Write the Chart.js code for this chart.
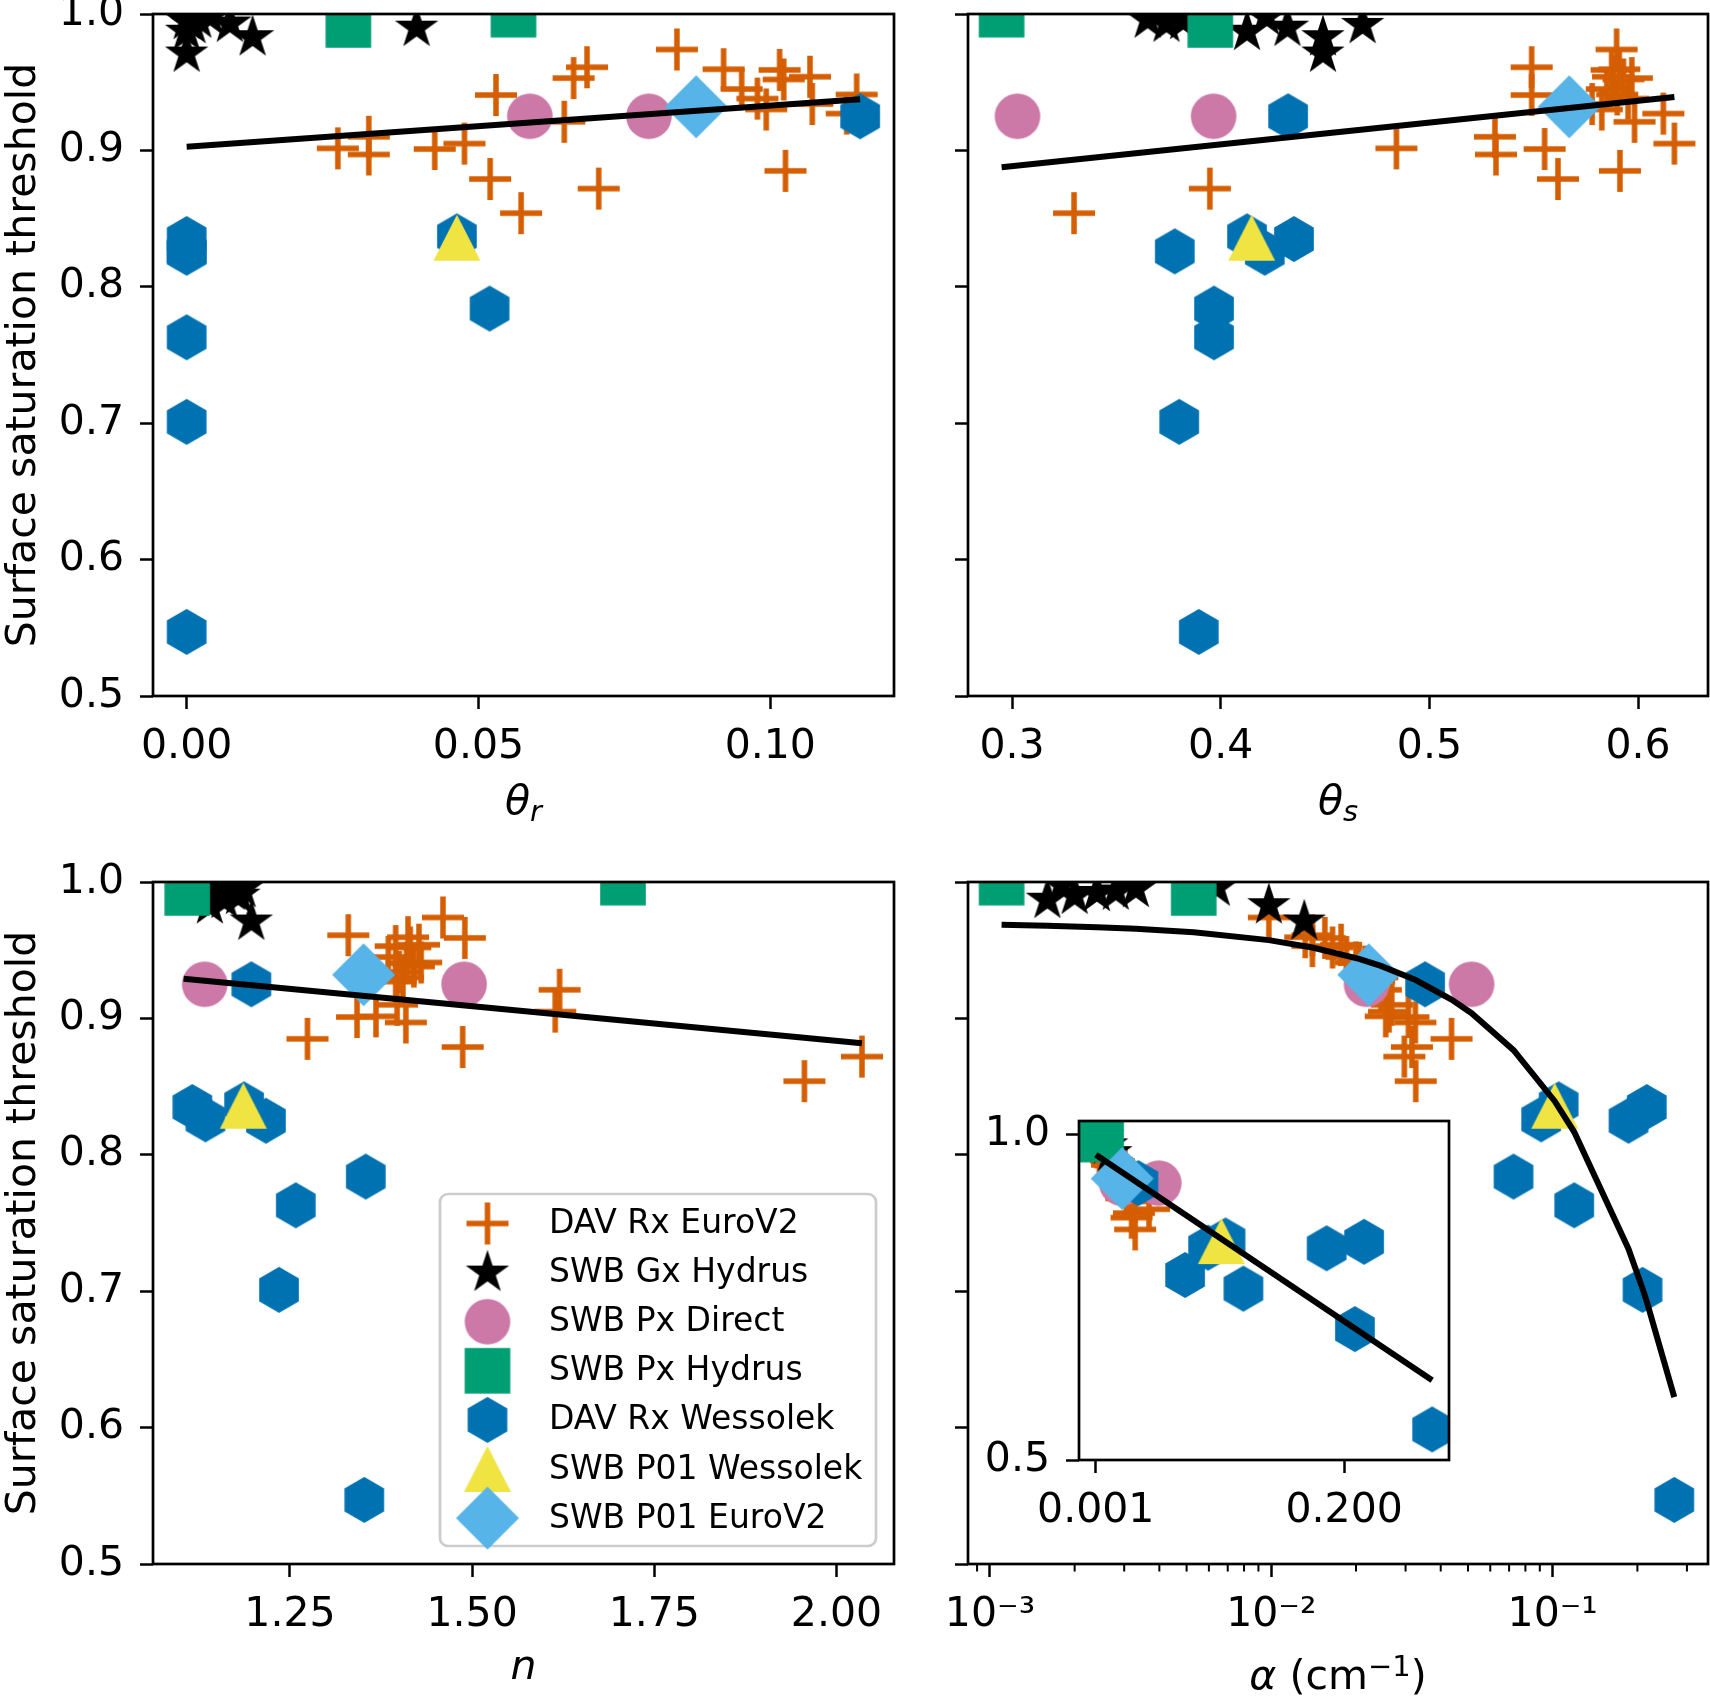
<!DOCTYPE html>
<html>
<head>
<meta charset="utf-8">
<script src="https://cdn.jsdelivr.net/npm/chart.js@4.4.1/dist/chart.umd.min.js"></script>
<style>
  html, body { margin: 0; padding: 0; background: #fff; }
  #wrap { position: relative; width: 1710px; height: 1698px; overflow: hidden; }
  #wrap canvas { position: absolute; left: 0; top: 0; }
</style>
</head>
<body>
<div id="wrap">
  <canvas id="pThetaR" width="1710" height="1698"></canvas>
  <canvas id="pThetaS" width="1710" height="1698"></canvas>
  <canvas id="pN" width="1710" height="1698"></canvas>
  <canvas id="pAlpha" width="1710" height="1698"></canvas>
  <canvas id="pInset" width="1710" height="1698"></canvas>
</div>
<script>
// series, in legend order
const SERIES = ["DAV Rx EuroV2", "SWB Gx Hydrus", "SWB Px Direct", "SWB Px Hydrus",
  "DAV Rx Wessolek", "SWB P01 Wessolek", "SWB P01 EuroV2"];

// surface saturation threshold (y) per series
const euroY = [0.854, 0.872, 0.879, 0.885, 0.897, 0.901, 0.9015, 0.905, 0.910, 0.921, 0.927, 0.930,
  0.934, 0.938, 0.9406, 0.941, 0.945, 0.952, 0.953, 0.954, 0.959, 0.9595, 0.961, 0.974];
const gxHydrusY = [0.971, 0.983, 0.987, 0.990, 0.992, 0.993, 0.995, 0.996, 0.998];
const directY = [0.925, 0.925];
const pxHydrusY = [0.992, 0.9995];
const wessolekY = [0.547, 0.701, 0.763, 0.784, 0.825, 0.826, 0.835, 0.837, 0.925];
const p01WessolekY = [0.836];
const p01EuroY = [0.932];

// theta_r
const euroThetaR = [0.0573, 0.0706, 0.0520, 0.1026, 0.0312, 0.0425, 0.0259, 0.0476, 0.0312, 0.0647, 0.1131, 0.0993,
  0.1072, 0.0978, 0.0530, 0.1148, 0.0951, 0.1023, 0.0663, 0.1068, 0.1016, 0.0920, 0.0686, 0.0840];
const gxHydrusThetaR = [0.000, 0.0113, 0.000, 0.0394, 0.001, 0.0074, 0.000, 0.002, 0.004];
const directThetaR = [0.0588, 0.0792];
const pxHydrusThetaR = [0.0277, 0.056];
const wessolekThetaR = [0.000, 0.000, 0.000, 0.0519, 0.000, 0.000, 0.000, 0.0463, 0.1154];
const p01WessolekThetaR = [0.0463];
const p01EuroThetaR = [0.0873];

// theta_s
const euroThetaS = [0.3297, 0.3948, 0.5616, 0.5913, 0.5319, 0.5552, 0.4842, 0.6174, 0.5314, 0.5983, 0.6121, 0.5826,
  0.5780, 0.5952, 0.5490, 0.5900, 0.5850, 0.5930, 0.5970, 0.5880, 0.5873, 0.5910, 0.5490, 0.5897];
const gxHydrusThetaS = [0.449, 0.449, 0.4126, 0.432, 0.468, 0.374, 0.382, 0.365, 0.4217];
const directThetaS = [0.3026, 0.3966];
const pxHydrusThetaS = [0.395, 0.295];
const wessolekThetaS = [0.3895, 0.3801, 0.3968, 0.3968, 0.4211, 0.378, 0.4351, 0.4126, 0.4323];
const p01WessolekThetaS = [0.4148];
const p01EuroThetaS = [0.567];

// n
const euroN = [1.956, 2.035, 1.487, 1.274, 1.409, 1.342, 1.368, 1.614, 1.397, 1.620, 1.395, 1.405,
  1.400, 1.420, 1.410, 1.430, 1.385, 1.415, 1.395, 1.427, 1.490, 1.412, 1.330, 1.460];
const gxHydrusN = [1.197, 1.140, 1.160, 1.180, 1.150, 1.170, 1.185, 1.155, 1.175];
const directN = [1.133, 1.489];
const pxHydrusN = [1.109, 1.707];
const wessolekN = [1.352, 1.235, 1.258, 1.354, 1.217, 1.134, 1.116, 1.187, 1.197];
const p01WessolekN = [1.186];
const p01EuroN = [1.351];

// alpha (cm^-1)
const euroAlpha = [0.0326, 0.0297, 0.0316, 0.0437, 0.0325, 0.0307, 0.0255, 0.0262, 0.0268, 0.0245, 0.0232, 0.0238,
  0.0222, 0.0215, 0.0205, 0.0200, 0.0185, 0.0165, 0.0140, 0.0177, 0.0155, 0.0132, 0.0140, 0.0098];
const gxHydrusAlpha = [0.0131, 0.0098, 0.0016, 0.0020, 0.0024, 0.0028, 0.0033, 0.0064, 0.0018];
const directAlpha = [0.0218, 0.0515];
const pxHydrusAlpha = [0.0053, 0.0011];
const wessolekAlpha = [0.2705, 0.2086, 0.1193, 0.0726, 0.186, 0.091, 0.216, 0.105, 0.0352];
const p01WessolekAlpha = [0.1017];
const p01EuroAlpha = [0.0222];

// fitted lines
const fitThetaRX = [0.0, 0.1154];
const fitThetaRY = [0.9027, 0.9375];
const fitThetaSX = [0.295, 0.6174];
const fitThetaSY = [0.8876, 0.9391];
const fitNX = [1.104, 2.035];
const fitNY = [0.9291, 0.8817];
const fitAlphaX = [0.0011, 0.0016, 0.0024, 0.0033, 0.0053, 0.0098, 0.014, 0.0205, 0.0245, 0.0326, 0.0437,
  0.0515, 0.0726, 0.1017, 0.1193, 0.186, 0.2086, 0.216, 0.2705];
const fitAlphaY = [0.9686, 0.9679, 0.9669, 0.9658, 0.9632, 0.9574, 0.9520, 0.9437, 0.9385, 0.9281, 0.9138,
  0.9038, 0.8767, 0.8393, 0.8167, 0.7310, 0.7019, 0.6924, 0.6224];

// ticks
const Y_TICKS = [0.5, 0.6, 0.7, 0.8, 0.9, 1.0];
const Y_TICK_LABELS = ["0.5", "0.6", "0.7", "0.8", "0.9", "1.0"];
const THETA_R_TICKS = [0.0, 0.05, 0.10];
const THETA_R_TICK_LABELS = ["0.00", "0.05", "0.10"];
const THETA_S_TICKS = [0.3, 0.4, 0.5, 0.6];
const THETA_S_TICK_LABELS = ["0.3", "0.4", "0.5", "0.6"];
const N_TICKS = [1.25, 1.5, 1.75, 2.0];
const N_TICK_LABELS = ["1.25", "1.50", "1.75", "2.00"];
const ALPHA_TICKS = [0.001, 0.01, 0.1];
const ALPHA_TICK_LABELS = ["10\u207B\u00B3", "10\u207B\u00B2", "10\u207B\u00B9"];
const ALPHA_MINOR_TICKS = [0.0009, 0.002, 0.003, 0.004, 0.005, 0.006, 0.007, 0.008, 0.009,
  0.02, 0.03, 0.04, 0.05, 0.06, 0.07, 0.08, 0.09, 0.2, 0.3];
const INSET_X_TICKS = [0.001, 0.2];
const INSET_X_TICK_LABELS = ["0.001", "0.200"];
const INSET_Y_TICKS = [0.5, 1.0];
const INSET_Y_TICK_LABELS = ["0.5", "1.0"];

const SERIES_Y = [euroY, gxHydrusY, directY, pxHydrusY, wessolekY, p01WessolekY, p01EuroY];

// ---- layout / style ----
const W = 1710, H = 1698;
const YW = 120, XH = 90;
const FONT = "'DejaVu Sans', sans-serif";
const COLORS = ["#D55E00", "#000000", "#CC79A7", "#009E73", "#0072B2", "#F0E442", "#56B4E9"];

Chart.defaults.font.family = FONT;
Chart.defaults.font.size = 41;
Chart.defaults.color = "#000";

function makeMarker(draw) {
  const c = document.createElement("canvas");
  c.width = 72; c.height = 72;
  const g = c.getContext("2d");
  g.translate(36, 36);
  draw(g);
  return c;
}

function polygon(g, pts) {
  g.beginPath();
  pts.forEach(([x, y], i) => (i ? g.lineTo(x, y) : g.moveTo(x, y)));
  g.closePath();
  g.fill();
}

const MARKERS = [
  makeMarker((g) => {
    g.strokeStyle = COLORS[0]; g.lineWidth = 5.5;
    g.beginPath(); g.moveTo(-21, 0); g.lineTo(21, 0); g.moveTo(0, -21); g.lineTo(0, 21); g.stroke();
  }),
  makeMarker((g) => {
    g.fillStyle = COLORS[1];
    const pts = [];
    for (let k = 0; k < 10; k++) {
      const r = k % 2 ? 22.8 * 0.381966 : 22.8;
      const a = -Math.PI / 2 + (k * Math.PI) / 5;
      pts.push([r * Math.cos(a), r * Math.sin(a)]);
    }
    polygon(g, pts);
  }),
  makeMarker((g) => {
    g.fillStyle = COLORS[2];
    g.beginPath(); g.arc(0, 0, 22.8, 0, Math.PI * 2); g.fill();
  }),
  makeMarker((g) => {
    g.fillStyle = COLORS[3];
    g.fillRect(-22.8, -22.8, 45.6, 45.6);
  }),
  makeMarker((g) => {
    g.fillStyle = COLORS[4];
    const pts = [];
    for (let k = 0; k < 6; k++) {
      const a = -Math.PI / 2 + (k * Math.PI) / 3;
      pts.push([22.9 * Math.cos(a), 22.9 * Math.sin(a)]);
    }
    polygon(g, pts);
  }),
  makeMarker((g) => {
    g.fillStyle = COLORS[5];
    polygon(g, [[0, -23], [-23.5, 23], [23.5, 23]]);
  }),
  makeMarker((g) => {
    g.fillStyle = COLORS[6];
    polygon(g, [[0, -31.5], [31.5, 0], [0, 31.5], [-31.5, 0]]);
  }),
];

const framePlugin = {
  id: "frame",
  afterDraw(chart) {
    const { ctx, chartArea: a } = chart;
    ctx.save();
    ctx.strokeStyle = "#000";
    ctx.lineWidth = 2.7;
    ctx.strokeRect(a.left, a.top, a.right - a.left, a.bottom - a.top);
    ctx.restore();
  },
};

const whiteAreaPlugin = {
  id: "whiteArea",
  beforeDraw(chart) {
    const { ctx, chartArea: a } = chart;
    ctx.save();
    ctx.fillStyle = "#fff";
    ctx.fillRect(a.left, a.top, a.right - a.left, a.bottom - a.top);
    ctx.restore();
  },
};

function yTitlePlugin() {
  return {
    id: "yTitle",
    afterDraw(chart) {
      const { ctx, chartArea: a } = chart;
      ctx.save();
      ctx.font = "41px " + FONT;
      ctx.fillStyle = "#000";
      ctx.textAlign = "center";
      ctx.textBaseline = "alphabetic";
      ctx.translate(35, (a.top + a.bottom) / 2);
      ctx.rotate(-Math.PI / 2);
      ctx.fillText("Surface saturation threshold", 0, 0);
      ctx.restore();
    },
  };
}

// x title made of runs of text: [text, font, baseline shift]
function xTitlePlugin(runs, below) {
  return {
    id: "xTitle",
    afterDraw(chart) {
      const { ctx, chartArea: a } = chart;
      ctx.save();
      ctx.fillStyle = "#000";
      ctx.textBaseline = "alphabetic";
      ctx.textAlign = "left";
      let total = 0;
      runs.forEach(([t, f]) => { ctx.font = f; total += ctx.measureText(t).width; });
      let x = (a.left + a.right) / 2 - total / 2;
      const base = a.bottom + below;
      runs.forEach(([t, f, dy]) => {
        ctx.font = f;
        ctx.fillText(t, x, base + dy);
        x += ctx.measureText(t).width;
      });
      ctx.restore();
    },
  };
}

const alphaMinorPlugin = {
  id: "alphaMinor",
  afterDraw(chart) {
    const { ctx, chartArea: a } = chart;
    const s = chart.scales.x;
    ctx.save();
    ctx.strokeStyle = "#000";
    ctx.lineWidth = 2;
    ctx.beginPath();
    ALPHA_MINOR_TICKS.forEach((v) => {
      const px = s.getPixelForValue(v);
      ctx.moveTo(px, a.bottom);
      ctx.lineTo(px, a.bottom + 7.5);
    });
    ctx.stroke();
    ctx.restore();
  },
};

const legendPlugin = {
  id: "panelLegend",
  afterDraw(chart) {
    const ctx = chart.ctx;
    ctx.save();
    ctx.beginPath();
    ctx.roundRect(440, 1194, 436, 352, 8);
    ctx.fillStyle = "rgba(255,255,255,0.8)";
    ctx.fill();
    ctx.strokeStyle = "#cccccc";
    ctx.lineWidth = 2.7;
    ctx.stroke();
    ctx.font = "33px " + FONT;
    ctx.fillStyle = "#000";
    ctx.textAlign = "left";
    ctx.textBaseline = "middle";
    SERIES.forEach((name, i) => {
      const y = 1223.5 + i * 49.1;
      ctx.drawImage(MARKERS[i], 487.5 - 36, y - 36);
      ctx.fillText(name, 549, y + 1);
    });
    ctx.restore();
  },
};

function axisOpts(kind, min, max, ticks, labels, horizontal) {
  return {
    type: kind,
    min, max,
    afterBuildTicks: (s) => { s.ticks = ticks.map((v) => ({ value: v })); },
    afterFit: (s) => {
      if (horizontal) { s.height = XH; s.paddingLeft = 0; s.paddingRight = 0; }
      else { s.width = YW; s.paddingTop = 0; s.paddingBottom = 0; }
    },
    ticks: {
      callback: (v, i) => (labels ? labels[i] : ""),
      autoSkip: false, maxRotation: 0, minRotation: 0,
      padding: horizontal ? 14 : 16,
      color: "#000",
      font: { size: 41, family: FONT },
    },
    grid: { drawOnChartArea: false, drawTicks: true, tickLength: 13, tickWidth: 2.5, tickColor: "#000" },
    border: { display: false },
  };
}

function buildPanel(p) {
  const [L, T, R, B] = p.area;
  const datasets = SERIES.map((name, i) => ({
    label: name,
    data: p.xs[i].map((x, j) => ({ x, y: SERIES_Y[i][j] })),
    pointStyle: MARKERS[i],
    pointRadius: 23,
    pointHoverRadius: 23,
    order: 20 - i,
    clip: 0,
  }));
  datasets.push({
    label: "fit",
    data: p.fitX.map((x, j) => ({ x, y: p.fitY[j] })),
    showLine: true,
    borderColor: "#000",
    borderWidth: 6,
    pointRadius: 0,
    pointHoverRadius: 0,
    order: 0,
    clip: 0,
  });
  return new Chart(document.getElementById(p.id), {
    type: "scatter",
    data: { datasets },
    options: {
      responsive: false,
      animation: false,
      events: [],
      layout: { autoPadding: false, padding: { left: L - YW, top: T, right: W - R, bottom: H - B - XH } },
      scales: {
        x: axisOpts(p.xType, p.xMin, p.xMax, p.xTicks, p.xLabels, true),
        y: axisOpts("linear", p.yMin, p.yMax, p.yTicks, p.yLabels, false),
      },
      plugins: { legend: { display: false }, tooltip: { enabled: false } },
    },
    plugins: [framePlugin].concat(p.plugins || []),
  });
}

const IT = "italic 41px " + FONT;
const IS = "italic 29px " + FONT;
const RG = "41px " + FONT;
const SM = "29px " + FONT;

const PANELS = [
  {
    id: "pThetaR", area: [153, 14, 894, 696],
    xType: "linear", xMin: -0.00577, xMax: 0.1212, xTicks: THETA_R_TICKS, xLabels: THETA_R_TICK_LABELS,
    yMin: 0.5, yMax: 1.0, yTicks: Y_TICKS, yLabels: Y_TICK_LABELS,
    xs: [euroThetaR, gxHydrusThetaR, directThetaR, pxHydrusThetaR, wessolekThetaR, p01WessolekThetaR, p01EuroThetaR],
    fitX: fitThetaRX, fitY: fitThetaRY,
    plugins: [yTitlePlugin(), xTitlePlugin([["\u03B8", IT, 0], ["r", IS, 7]], 118)],
  },
  {
    id: "pThetaS", area: [968, 14, 1708, 696],
    xType: "linear", xMin: 0.2789, xMax: 0.6335, xTicks: THETA_S_TICKS, xLabels: THETA_S_TICK_LABELS,
    yMin: 0.5, yMax: 1.0, yTicks: Y_TICKS, yLabels: null,
    xs: [euroThetaS, gxHydrusThetaS, directThetaS, pxHydrusThetaS, wessolekThetaS, p01WessolekThetaS, p01EuroThetaS],
    fitX: fitThetaSX, fitY: fitThetaSY,
    plugins: [xTitlePlugin([["\u03B8", IT, 0], ["s", IS, 7]], 118)],
  },
  {
    id: "pN", area: [153, 882, 894, 1564],
    xType: "linear", xMin: 1.062, xMax: 2.079, xTicks: N_TICKS, xLabels: N_TICK_LABELS,
    yMin: 0.5, yMax: 1.0, yTicks: Y_TICKS, yLabels: Y_TICK_LABELS,
    xs: [euroN, gxHydrusN, directN, pxHydrusN, wessolekN, p01WessolekN, p01EuroN],
    fitX: fitNX, fitY: fitNY,
    plugins: [yTitlePlugin(), xTitlePlugin([["n", IT, 0]], 115), legendPlugin],
  },
  {
    id: "pAlpha", area: [968, 882, 1708, 1564],
    xType: "logarithmic", xMin: Math.pow(10, -3.078), xMax: Math.pow(10, -0.448), xTicks: ALPHA_TICKS, xLabels: ALPHA_TICK_LABELS,
    yMin: 0.5, yMax: 1.0, yTicks: Y_TICKS, yLabels: null,
    xs: [euroAlpha, gxHydrusAlpha, directAlpha, pxHydrusAlpha, wessolekAlpha, p01WessolekAlpha, p01EuroAlpha],
    fitX: fitAlphaX, fitY: fitAlphaY,
    plugins: [alphaMinorPlugin,
      xTitlePlugin([["\u03B1", IT, 0], [" (cm", RG, 0], ["\u22121", SM, -13], [")", RG, 0]], 125)],
  },
  {
    id: "pInset", area: [1079, 1121, 1449, 1460],
    xType: "linear", xMin: -0.0124, xMax: 0.284, xTicks: INSET_X_TICKS, xLabels: INSET_X_TICK_LABELS,
    yMin: 0.5, yMax: 1.0204, yTicks: INSET_Y_TICKS, yLabels: INSET_Y_TICK_LABELS,
    xs: [euroAlpha, gxHydrusAlpha, directAlpha, pxHydrusAlpha, wessolekAlpha, p01WessolekAlpha, p01EuroAlpha],
    fitX: [fitAlphaX[0], fitAlphaX[fitAlphaX.length - 1]],
    fitY: [fitAlphaY[0], fitAlphaY[fitAlphaY.length - 1]],
    plugins: [whiteAreaPlugin],
  },
];

PANELS.forEach(buildPanel);
</script>
</body>
</html>
